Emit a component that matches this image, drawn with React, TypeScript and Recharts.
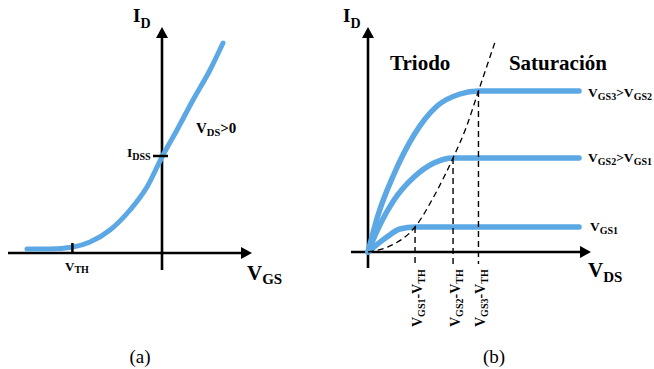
import React from "react";
import { ComposedChart, Line, XAxis, YAxis, ReferenceLine, ReferenceDot } from "recharts";

const BLUE = "#5BA8E5";
const FONT = '"Liberation Serif", "Times New Roman", serif';
const W = 327;
const H = 369;

// (a) transfer curve I_D vs V_GS
const transferCurve = [
  { v: -6.75, id: 0.2 },
  { v: -5.6, id: 0.2 },
  { v: -4.45, id: 0.3 },
  { v: -3.6, id: 0.55 },
  { v: -2.6, id: 1.15 },
  { v: -1.6, id: 2.15 },
  { v: -0.75, id: 3.3 },
  { v: 0, id: 4.8 },
  { v: 0.75, id: 6.15 },
  { v: 1.55, id: 7.65 },
  { v: 2.4, id: 9.15 },
  { v: 3.05, id: 10.5 },
];
const idss = 4.85;
const vth = -4.48;

// (b) output curves I_D vs V_DS
const vgs1Curve = [
  { v: 0, id: 0 },
  { v: 0.9, id: 0.75 },
  { v: 1.52, id: 1.15 },
  { v: 2.24, id: 1.25 },
  { v: 10.05, id: 1.25 },
];
const vgs2Curve = [
  { v: 0, id: 0 },
  { v: 0.45, id: 1.1 },
  { v: 1.24, id: 2.6 },
  { v: 2.19, id: 3.75 },
  { v: 3.14, id: 4.45 },
  { v: 4.05, id: 4.7 },
  { v: 10.05, id: 4.7 },
];
const vgs3Curve = [
  { v: 0, id: 0 },
  { v: 0.45, id: 1.75 },
  { v: 1.24, id: 3.9 },
  { v: 2.19, id: 5.85 },
  { v: 3.29, id: 7.3 },
  { v: 4.38, id: 7.9 },
  { v: 5.26, id: 8.05 },
  { v: 10.05, id: 8.05 },
];
const satBoundary = [
  { v: 0, id: 0 },
  { v: 1, id: 0.28 },
  { v: 2.24, id: 1.25 },
  { v: 3.2, id: 2.9 },
  { v: 4.05, id: 4.7 },
  { v: 4.7, id: 6.3 },
  { v: 5.26, id: 8.05 },
  { v: 6.05, id: 10.5 },
];
const kneeVds = [2.24, 4.05, 5.26];
const kneeId = [1.25, 4.7, 8.05];
const kneeLabels = ["GS1", "GS2", "GS3"];

type Part = [string, boolean];

function SubText({ x, y, parts, size, sub, shift, anchor = "start", rotate = false, bold = true }: any) {
  let cur = 0;
  return (
    <text
      x={x}
      y={y}
      fontFamily={FONT}
      fontWeight={bold ? "bold" : "normal"}
      fontSize={size}
      fill="#000"
      textAnchor={anchor}
      transform={rotate ? `rotate(-90 ${x} ${y})` : undefined}
    >
      {parts.map(([t, s]: Part, i: number) => {
        const target = s ? shift : 0;
        const dy = target - cur;
        cur = target;
        return (
          <tspan key={i} dy={dy} fontSize={s ? sub : size}>
            {t}
          </tspan>
        );
      })}
    </text>
  );
}

const arrowRight = (p: any) => (
  <path d={`M${p.cx},${p.cy} L${p.cx - 11},${p.cy - 6} L${p.cx - 11},${p.cy + 6} Z`} fill="#000" />
);
const arrowUp = (p: any) => (
  <path d={`M${p.cx},${p.cy} L${p.cx - 6},${p.cy + 11} L${p.cx + 6},${p.cy + 11} Z`} fill="#000" />
);

const label = (parts: Part[], size: number, sub: number, shift: number, opts: any = {}) => (p: any) => (
  <SubText x={p.cx + (opts.dx || 0)} y={p.cy} parts={parts} size={size} sub={sub} shift={shift} {...opts} />
);

const margin = { top: 0, right: 0, bottom: 0, left: 0 };

function PanelA() {
  return (
    <ComposedChart width={W} height={H} margin={margin}>
      <XAxis type="number" dataKey="v" domain={[-8.1, 8.25]} hide allowDataOverflow />
      <YAxis type="number" domain={[-5.8, 12.65]} hide allowDataOverflow />
      <ReferenceLine segment={[{ x: -7.7, y: 0 }, { x: 4.1, y: 0 }]} stroke="#000" strokeWidth={2.6} ifOverflow="visible" />
      <ReferenceLine segment={[{ x: 0, y: -0.85 }, { x: 0, y: 10.9 }]} stroke="#000" strokeWidth={2.6} ifOverflow="visible" />
      <ReferenceDot x={4.5} y={0} shape={arrowRight} ifOverflow="visible" />
      <ReferenceDot x={0} y={11.3} shape={arrowUp} ifOverflow="visible" />
      <Line
        data={transferCurve}
        dataKey="id"
        type="monotone"
        stroke={BLUE}
        strokeWidth={5}
        strokeLinecap="round"
        dot={false}
        activeDot={false}
        isAnimationActive={false}
      />
      <ReferenceLine segment={[{ x: -0.45, y: idss }, { x: 0.3, y: idss }]} stroke="#000" strokeWidth={2.5} ifOverflow="visible" />
      <ReferenceLine segment={[{ x: vth, y: 0 }, { x: vth, y: 0.5 }]} stroke="#000" strokeWidth={2.5} ifOverflow="visible" />
      <ReferenceDot x={-1.45} y={11.55} shape={label([["I", false], ["D", true]], 19, 14, 6)} ifOverflow="visible" />
      <ReferenceDot x={1.7} y={6.0} shape={label([["V", false], ["DS", true], [">0", false]], 15, 10.5, 3)} ifOverflow="visible" />
      <ReferenceDot x={-1.75} y={idss - 0.05} shape={label([["I", false], ["DSS", true]], 13.5, 10, 3)} ifOverflow="visible" />
      <ReferenceDot x={vth - 0.37} y={-0.9} shape={label([["V", false], ["TH", true]], 13, 10, 2)} ifOverflow="visible" />
      <ReferenceDot x={4.25} y={-1.35} shape={label([["V", false], ["GS", true]], 21, 15, 4)} ifOverflow="visible" />
      <ReferenceDot x={-1.1} y={-5.5} shape={label([["(a)", false]], 19, 19, 0, { anchor: "middle", bold: false })} ifOverflow="visible" />
    </ComposedChart>
  );
}

function PanelB() {
  const curves = [vgs1Curve, vgs2Curve, vgs3Curve];
  return (
    <ComposedChart width={W} height={H} margin={margin}>
      <XAxis type="number" dataKey="v" domain={[-41 / 21, (W - 41) / 21]} hide allowDataOverflow />
      <YAxis type="number" domain={[-5.85, 12.6]} hide allowDataOverflow />
      <ReferenceLine segment={[{ x: -0.81, y: 0 }, { x: 10.3, y: 0 }]} stroke="#000" strokeWidth={2.6} ifOverflow="visible" />
      <ReferenceLine segment={[{ x: 0, y: -0.8 }, { x: 0, y: 10.9 }]} stroke="#000" strokeWidth={2.6} ifOverflow="visible" />
      <ReferenceDot x={10.62} y={0} shape={arrowRight} ifOverflow="visible" />
      <ReferenceDot x={0} y={11.25} shape={arrowUp} ifOverflow="visible" />
      {curves.map((c, i) => (
        <Line
          key={i}
          data={c}
          dataKey="id"
          type="monotone"
          stroke={BLUE}
          strokeWidth={5.5}
          strokeLinecap="round"
          dot={false}
          activeDot={false}
          isAnimationActive={false}
        />
      ))}
      <Line
        data={satBoundary}
        dataKey="id"
        type="monotone"
        stroke="#000"
        strokeWidth={1.3}
        strokeDasharray="6 4"
        dot={false}
        activeDot={false}
        isAnimationActive={false}
      />
      {kneeVds.map((v, i) => (
        <ReferenceLine
          key={"k" + i}
          segment={[{ x: v, y: kneeId[i] }, { x: v, y: -0.6 }]}
          stroke="#000"
          strokeWidth={1.4}
          strokeDasharray="6 4"
          ifOverflow="visible"
        />
      ))}
      {kneeVds.map((v, i) => (
        <ReferenceDot
          key={"l" + i}
          x={v}
          y={-3.75}
          shape={label(
            [["V", false], [kneeLabels[i], true], ["-V", false], ["TH", true]],
            14,
            10,
            3,
            { dx: 7, rotate: true }
          )}
          ifOverflow="visible"
        />
      ))}
      <ReferenceDot x={-1.19} y={11.5} shape={label([["I", false], ["D", true]], 19, 14, 6)} ifOverflow="visible" />
      <ReferenceDot x={1.05} y={9.1} shape={label([["Triodo", false]], 21, 21, 0)} ifOverflow="visible" />
      <ReferenceDot x={6.71} y={9.1} shape={label([["Saturación", false]], 21, 21, 0)} ifOverflow="visible" />
      <ReferenceDot
        x={10.48}
        y={7.75}
        shape={label([["V", false], ["GS3", true], [">V", false], ["GS2", true]], 13.5, 10, 3)}
        ifOverflow="visible"
      />
      <ReferenceDot
        x={10.48}
        y={4.5}
        shape={label([["V", false], ["GS2", true], [">V", false], ["GS1", true]], 13.5, 10, 3)}
        ifOverflow="visible"
      />
      <ReferenceDot x={10.57} y={1.05} shape={label([["V", false], ["GS1", true]], 13.5, 10, 3)} ifOverflow="visible" />
      <ReferenceDot x={10.48} y={-1.25} shape={label([["V", false], ["DS", true]], 21, 15, 5)} ifOverflow="visible" />
      <ReferenceDot x={6.0} y={-5.55} shape={label([["(b)", false]], 19, 19, 0, { anchor: "middle", bold: false })} ifOverflow="visible" />
    </ComposedChart>
  );
}

export default function App() {
  return (
    <div style={{ position: "absolute", left: 0, top: 0, width: 654, height: 369, display: "flex", background: "#fff" }}>
      <PanelA />
      <PanelB />
    </div>
  );
}
